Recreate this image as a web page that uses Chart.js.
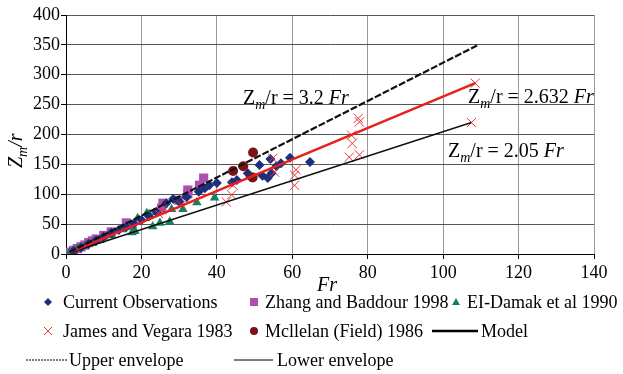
<!DOCTYPE html>
<html>
<head>
<meta charset="utf-8">
<script src="https://cdn.jsdelivr.net/npm/chart.js@4/dist/chart.umd.min.js"></script>
<style>
  html, body { margin: 0; padding: 0; background: #fff; }
  #wrap { width: 623px; height: 374px; position: relative; }
</style>
</head>
<body>
<div id="wrap"><canvas id="plumeChart"></canvas></div>
<script>
// Current Observations
const curFr = [2, 4, 6, 8, 10, 12, 14, 16, 18, 20, 22, 24, 26.6, 28.4, 30, 32, 35.2, 36.8, 38, 40, 44, 45.3, 48.2, 48.9, 51.3, 52.1, 53.5, 54.5, 54.2, 55.8, 57, 59.4, 64.7];
const curZ = [5, 11, 17, 23, 29, 35, 40, 45, 51, 57, 63, 70, 85, 92, 88, 95, 104, 110, 115, 119, 120, 124, 135, 129, 149, 131, 127, 135, 159, 147, 152, 161, 154];

// Zhang and Baddour 1998
const zbFr = [0.5, 1, 2, 3, 4, 5, 6, 7, 8, 10, 12, 16, 17.5, 25.4, 25.7, 29.9, 32.3, 32.3, 35.4, 36.5];
const zbZ = [2, 3, 6, 9, 12, 15, 19, 22, 25, 31, 37, 52, 48, 77, 85, 90, 101, 107, 115, 127];

// El-Damak et al 1990
const edFr = [1, 2, 3, 5, 7, 9, 12, 15, 16, 17.5, 18.3, 19, 21.4, 22, 23, 24, 24.9, 27.5, 28, 31, 34.7, 39.4];
const edZ = [3, 6, 9, 13, 18, 23, 31, 41, 46, 36, 38, 60, 68, 67, 46, 70, 52, 54, 75, 75, 86, 94];

// James and Vegara 1983
const jvFr = [24.5, 25.5, 30.6, 42.5, 43.9, 44.3, 54.8, 55.3, 60.6, 60.6, 61, 75.1, 75.7, 75.9, 77.8, 77.5, 77.8, 107.5, 108.5];
const jvZ = [68, 74, 82, 87, 99, 115, 160, 137, 115, 132, 141, 162, 199, 185, 166, 227, 221, 220, 286];

// Mcllelan (Field) 1986
const mcFr = [44.3, 47, 49.6, 49.5];
const mcZ = [139, 147, 170, 128];

// model and envelopes (end points)
const upFr = [1, 109];
const upZ = [3.2, 349];
const modelFr = [1, 108.5];
const modelZ = [2.6, 286];
const lowFr = [1, 107.5];
const lowZ = [2.1, 220];

const xTicks = [0, 20, 40, 60, 80, 100, 120, 140];
const yTicks = [0, 50, 100, 150, 200, 250, 300, 350, 400];

const SERIF = "'Liberation Serif', 'Times New Roman', serif";

function pts(xs, ys) {
  return xs.map((x, i) => ({ x: x, y: ys[i] }));
}

// draws text made of pieces (for subscripts / italics)
function drawRich(ctx, parts, x, y) {
  let cx = x;
  parts.forEach(p => {
    ctx.font = p.font;
    ctx.fillText(p.t, cx, y + (p.dy || 0));
    cx += ctx.measureText(p.t).width;
  });
}

function eqParts(value) {
  return [
    { t: "Z", font: "20px " + SERIF },
    { t: "m", font: "italic 14px " + SERIF, dy: 5 },
    { t: "/r = " + value + " ", font: "20px " + SERIF },
    { t: "Fr", font: "italic 20px " + SERIF },
  ];
}

function marker(ctx, kind, x, y, color) {
  ctx.save();
  ctx.fillStyle = color;
  ctx.strokeStyle = color;
  ctx.beginPath();
  if (kind === "diamond") {
    ctx.moveTo(x, y - 4); ctx.lineTo(x + 4, y); ctx.lineTo(x, y + 4); ctx.lineTo(x - 4, y);
    ctx.closePath(); ctx.fill();
  } else if (kind === "square") {
    ctx.rect(x - 4, y - 4, 8, 8); ctx.fill();
  } else if (kind === "triangle") {
    ctx.moveTo(x, y - 4); ctx.lineTo(x + 4, y + 3); ctx.lineTo(x - 4, y + 3);
    ctx.closePath(); ctx.fill();
  } else if (kind === "cross") {
    ctx.lineWidth = 1;
    ctx.moveTo(x - 4, y - 4); ctx.lineTo(x + 4, y + 4);
    ctx.moveTo(x + 4, y - 4); ctx.lineTo(x - 4, y + 4);
    ctx.stroke();
  } else if (kind === "circle") {
    ctx.arc(x, y, 4, 0, Math.PI * 2); ctx.fill();
  }
  ctx.restore();
}

const textPlugin = {
  id: "textPlugin",
  afterDraw(chart) {
    const ctx = chart.ctx;
    ctx.save();
    ctx.fillStyle = "#000";
    ctx.textBaseline = "alphabetic";

    // equations on the plot
    drawRich(ctx, eqParts("3.2"), 243, 104);
    drawRich(ctx, eqParts("2.632"), 468, 103);
    drawRich(ctx, eqParts("2.05"), 448, 157);

    // y axis title
    ctx.save();
    ctx.translate(22, 168);
    ctx.rotate(-Math.PI / 2);
    drawRich(ctx, [
      { t: "Z", font: "italic 20px " + SERIF },
      { t: "m", font: "italic 14px " + SERIF, dy: 5 },
      { t: "/r", font: "italic 20px " + SERIF },
    ], 0, 0);
    ctx.restore();

    // x axis title
    ctx.font = "italic 20px " + SERIF;
    ctx.textAlign = "center";
    ctx.fillText("Fr", 327, 291);

    // legend
    ctx.textAlign = "left";
    ctx.textBaseline = "middle";
    ctx.font = "18px " + SERIF;
    const rows = [
      [48, 302, "diamond", "#1c2e7c", 63, "Current Observations"],
      [254, 302, "square", "#b04fb0", 265, "Zhang and Baddour 1998"],
      [456, 302, "triangle", "#168060", 467, "EI-Damak et al 1990"],
      [48, 331, "cross", "#ee3333", 63, "James and Vegara 1983"],
      [254, 331, "circle", "#7a1414", 265, "Mcllelan (Field) 1986"],
    ];
    rows.forEach(r => {
      marker(ctx, r[2], r[0], r[1], r[3]);
      ctx.fillStyle = "#000";
      ctx.fillText(r[5], r[4], r[1] + 1);
    });

    ctx.strokeStyle = "#000";
    ctx.lineWidth = 2.5;
    ctx.beginPath(); ctx.moveTo(432, 331); ctx.lineTo(478, 331); ctx.stroke();
    ctx.fillText("Model", 481, 332);

    ctx.lineWidth = 1;
    ctx.setLineDash([2, 1]);
    ctx.beginPath(); ctx.moveTo(26, 360); ctx.lineTo(67, 360); ctx.stroke();
    ctx.setLineDash([]);
    ctx.fillText("Upper envelope", 69, 361);

    ctx.beginPath(); ctx.moveTo(234, 360); ctx.lineTo(273, 360); ctx.stroke();
    ctx.fillText("Lower envelope", 277, 361);

    ctx.restore();
  }
};

function initChart() {
  const ctx = document.getElementById("plumeChart").getContext("2d");
  new Chart(ctx, {
    type: "scatter",
    data: {
      datasets: [
        {
          label: "Upper envelope",
          data: pts(upFr, upZ),
          showLine: true,
          borderColor: "#111",
          borderWidth: 2.2,
          borderDash: [7, 2],
          pointRadius: 0,
          order: 0,
        },
        {
          label: "Model",
          data: pts(modelFr, modelZ),
          showLine: true,
          borderColor: "#e8201c",
          borderWidth: 2.5,
          pointRadius: 0,
          order: 0,
        },
        {
          label: "Lower envelope",
          data: pts(lowFr, lowZ),
          showLine: true,
          borderColor: "#111",
          borderWidth: 1.5,
          pointRadius: 0,
          order: 0,
        },
        {
          label: "Mcllelan (Field) 1986",
          data: pts(mcFr, mcZ),
          pointStyle: "circle",
          pointRadius: 5,
          backgroundColor: "#7a1414",
          borderColor: "#7a1414",
          borderWidth: 0,
          order: 1,
        },
        {
          label: "James and Vegara 1983",
          data: pts(jvFr, jvZ),
          pointStyle: "crossRot",
          pointRadius: 6.5,
          borderColor: "#ee3333",
          borderWidth: 1,
          order: 1,
        },
        {
          label: "Current Observations",
          data: pts(curFr, curZ),
          pointStyle: "rectRot",
          pointRadius: 5,
          backgroundColor: "#1c2e7c",
          borderColor: "#1c2e7c",
          borderWidth: 0,
          order: 2,
        },
        {
          label: "EI-Damak et al 1990",
          data: pts(edFr, edZ),
          pointStyle: "triangle",
          pointRadius: 5.5,
          backgroundColor: "#168060",
          borderColor: "#168060",
          borderWidth: 0,
          order: 3,
        },
        {
          label: "Zhang and Baddour 1998",
          data: pts(zbFr, zbZ),
          pointStyle: "rect",
          pointRadius: 6.5,
          backgroundColor: "#b04fb0",
          borderColor: "#b04fb0",
          borderWidth: 0,
          order: 4,
        },
      ],
    },
    options: {
      responsive: false,
      animation: false,
      layout: {
        padding: { top: 15, right: 29, left: 0, bottom: 0 },
      },
      scales: {
        x: {
          type: "linear",
          min: 0,
          max: 140,
          afterBuildTicks: s => { s.ticks = xTicks.map(v => ({ value: v })); },
          afterFit: s => { s.height = 120; },
          ticks: {
            color: "#000",
            font: { family: SERIF, size: 18 },
            padding: 3,
            maxRotation: 0,
          },
          grid: { color: "#999", tickColor: "#000", tickLength: 5 },
          border: { color: "#000", width: 1 },
        },
        y: {
          type: "linear",
          min: 0,
          max: 400,
          afterBuildTicks: s => { s.ticks = yTicks.map(v => ({ value: v })); },
          afterFit: s => { s.width = 66; },
          ticks: {
            color: "#000",
            font: { family: SERIF, size: 18 },
            padding: 1,
          },
          grid: { color: "#555", tickColor: "#000", tickLength: 5 },
          border: { color: "#000", width: 1 },
        },
      },
      plugins: {
        legend: { display: false },
        tooltip: { enabled: false },
      },
    },
    plugins: [textPlugin],
  });
}

const cv = document.getElementById("plumeChart");
cv.width = 623;
cv.height = 374;
window.onload = () => {
  initChart();
};
</script>
</body>
</html>
